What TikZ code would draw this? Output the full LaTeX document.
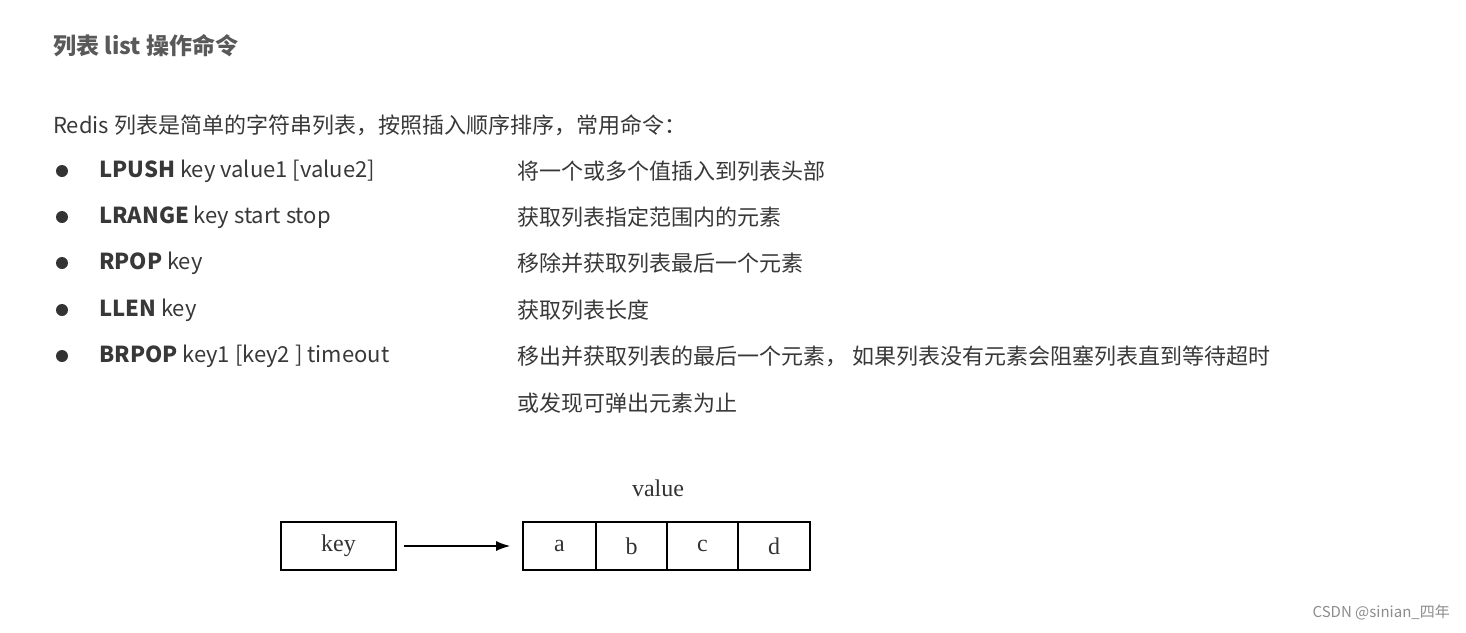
\documentclass[tikz,border=0pt]{standalone}
\usepackage{fontspec}
\usetikzlibrary{arrows.meta}
\setmainfont{Liberation Serif}
\newfontfamily\cjk{Noto Sans CJK SC}
\begin{document}
\begin{tikzpicture}[x=1pt,y=-1pt,
  txt/.style={anchor=west,inner sep=0,text=black!78,font=\cjk\fontsize{22}{26}\selectfont},
  cell/.style={draw,line width=1.6pt,minimum height=48pt,inner sep=0,font=\fontsize{24}{28}\selectfont,text=black!80},
  dotmark/.style={circle,fill=black!80,inner sep=0,minimum size=12pt}]
\useasboundingbox (0,0) rectangle (1466,632);
\node[txt,font=\cjk\bfseries\fontsize{23}{27}\selectfont,text=black!65] (title) at (53,46) {列表 list 操作命令};
\node[txt] (intro) at (53,125) {Redis 列表是简单的字符串列表，按照插入顺序排序，常用命令：};
\foreach \y/\c/\a/\d [count=\i] in {171/LPUSH/key value1 [value2]/将一个或多个值插入到列表头部,
  217/LRANGE/key start stop/获取列表指定范围内的元素,
  263/RPOP/key/移除并获取列表最后一个元素,
  310/LLEN/key/获取列表长度,
  356/BRPOP/key1 [key2 ] timeout/{移出并获取列表的最后一个元素， 如果列表没有元素会阻塞列表直到等待超时}}{
  \node[dotmark] (b\i) at (62,\y) {};
  \node[txt] (c\i) at (99,\y) {\textbf{\c} \a};
  \node[txt] (d\i) at (517,\y) {\d};
}
\node[txt] (d6) at (517,403) {或发现可弹出元素为止};
\node[cell,minimum width=115pt] (key) at (338.5,546) {key};
\node[cell,minimum width=73pt] (a) at (559.5,546) {a};
\node[cell,minimum width=71pt] (b) at (631.5,546) {b};
\node[cell,minimum width=71pt] (c) at (702.5,546) {c};
\node[cell,minimum width=72pt] (d) at (774,546) {d};
\node[font=\fontsize{24}{28}\selectfont,text=black!80] (val) at (658,488) {value};
\draw[line width=1.6pt,-{Latex[length=14pt,width=10pt]}] ([xshift=7pt]key.east) -- ([xshift=-12pt]a.west);
\node[anchor=east,inner sep=0,text=black!45,font=\cjk\fontsize{15}{18}\selectfont] (wm) at (1450,612) {CSDN @sinian\_四年};
\end{tikzpicture}
\end{document}
